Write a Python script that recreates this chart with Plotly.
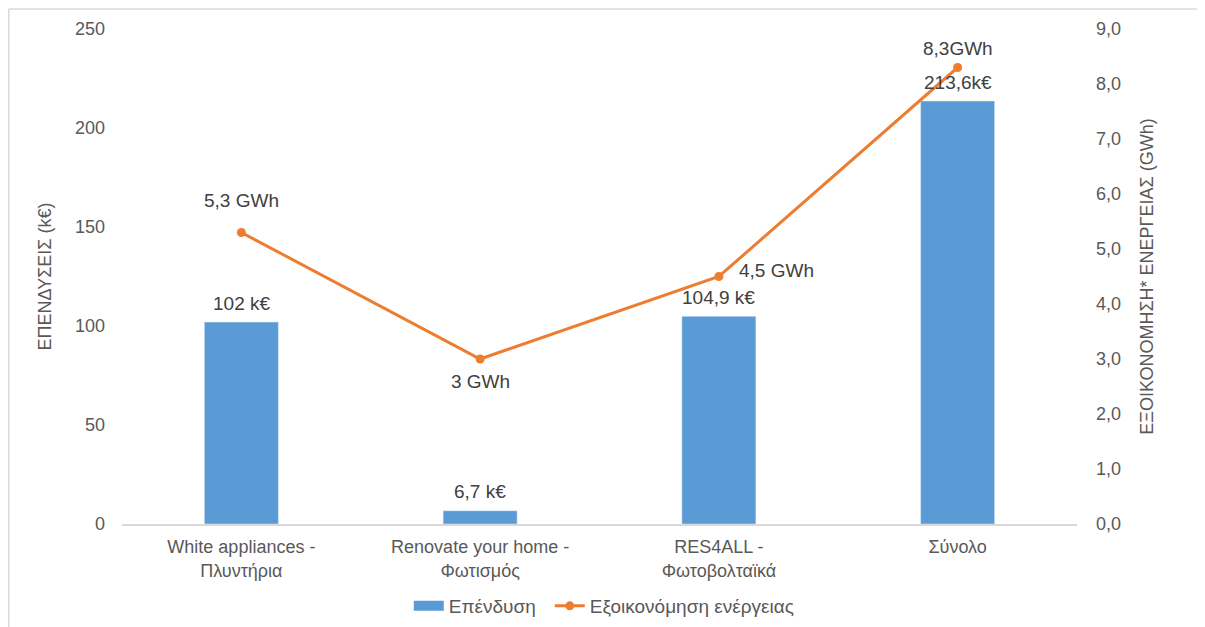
import plotly.graph_objects as go

categories = ["White appliances -<br>Πλυντήρια", "Renovate your home -<br>Φωτισμός",
              "RES4ALL -<br>Φωτοβολταϊκά", "Σύνολο"]
investment = [102, 6.7, 104.9, 213.6]
investment_labels = ["102 k€", "6,7 k€", "104,9 k€", "213,6k€"]
savings = [5.3, 3.0, 4.5, 8.3]
savings_labels = ["5,3 GWh", "3 GWh", "4,5 GWh", "8,3GWh"]
left_ticks = [0, 50, 100, 150, 200, 250]
right_ticks = [0, 1, 2, 3, 4, 5, 6, 7, 8, 9]
right_tick_labels = ["0,0", "1,0", "2,0", "3,0", "4,0", "5,0", "6,0", "7,0", "8,0", "9,0"]

FONT = "Liberation Sans, Arial, sans-serif"
TICK = "#595959"
LABEL = "#404040"
BLUE = "#5B9BD5"
ORANGE = "#ED7D31"

fig = go.Figure()
fig.add_trace(go.Bar(x=categories, y=investment, name="Επένδυση", showlegend=False,
                     marker=dict(color=BLUE), width=0.31, yaxis="y"))
# legend entry for the bars (wide rectangle symbol as in the original)
fig.add_trace(go.Scatter(x=[None], y=[None], name="Επένδυση", mode="lines",
                         line=dict(color=BLUE, width=10), yaxis="y"))
fig.add_trace(go.Scatter(x=categories, y=savings, name="Εξοικονόμηση ενέργειας",
                         mode="lines+markers", yaxis="y2",
                         line=dict(color=ORANGE, width=3),
                         marker=dict(color=ORANGE, size=9)))

for c, v, t in zip(categories, investment, investment_labels):
    fig.add_annotation(x=c, y=v, xref="x", yref="y", text=t, showarrow=False,
                       yshift=19, font=dict(family=FONT, size=19, color=LABEL))

shifts = [(0, 32), (0, -22), (58, 6), (0, 19)]
for c, v, t, (dx, dy) in zip(categories, savings, savings_labels, shifts):
    fig.add_annotation(x=c, y=v, xref="x", yref="y2", text=t, showarrow=False,
                       xshift=dx, yshift=dy, font=dict(family=FONT, size=19, color=LABEL))

# outer frame lines (page offset of 8px is accounted for in the figure size)
fig.add_shape(type="line", xref="paper", yref="paper", x0=-0.1186, x1=-0.1186, y0=1.0404, y1=-0.3,
              line=dict(color="#D9D9D9", width=1.5))
fig.add_shape(type="line", xref="paper", yref="paper", x0=-0.1186, x1=1.2, y0=1.0404, y1=1.0404,
              line=dict(color="#D9D9D9", width=1.5))

fig.update_layout(
    width=1197, height=619,
    margin=dict(l=114, r=128, t=21, b=103, autoexpand=False),
    paper_bgcolor="white", plot_bgcolor="white",
    font=dict(family=FONT, size=18, color=TICK),
    bargap=0.69,
    showlegend=True,
    legend=dict(orientation="h", x=0.505, xanchor="center", y=-0.1657, yanchor="middle",
                font=dict(family=FONT, size=19, color=TICK), itemwidth=30),
    xaxis=dict(showline=True, linecolor="#D9D9D9", linewidth=1.5, ticks="", automargin=False,
               ticklabelstandoff=6,
               tickfont=dict(family=FONT, size=18, color=TICK), showgrid=False),
    yaxis=dict(range=[0, 250], tickvals=left_ticks, showgrid=False, automargin=False,
               zeroline=False, showline=False, ticks="", ticklabelstandoff=16,
               title=dict(text="ΕΠΕΝΔΥΣΕΙΣ (k€)", font=dict(family=FONT, size=18, color=TICK), standoff=18),
               tickfont=dict(family=FONT, size=18, color=TICK)),
    yaxis2=dict(range=[0, 9], tickvals=right_ticks, ticktext=right_tick_labels, overlaying="y",
                side="right", showgrid=False, zeroline=False, showline=False, ticks="",
                ticklabelstandoff=18, automargin=False,
                title=dict(text="ΕΞΟΙΚΟΝΟΜΗΣΗ* ΕΝΕΡΓΕΙΑΣ (GWh)",
                           font=dict(family=FONT, size=18, color=TICK), standoff=20),
                tickfont=dict(family=FONT, size=18, color=TICK)),
)
fig.data[1].legendwidth = 96

fig.write_html("out.html")
